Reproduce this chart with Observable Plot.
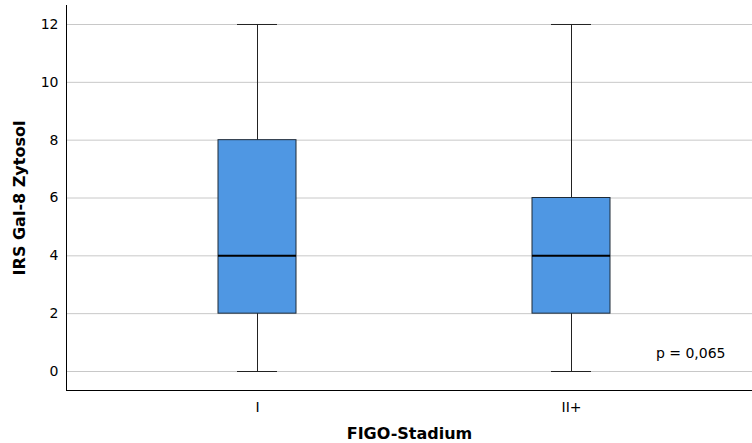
<!DOCTYPE html>
<html><head><meta charset="utf-8">
<script src="https://cdn.jsdelivr.net/npm/d3@7"></script>
<script src="https://cdn.jsdelivr.net/npm/@observablehq/plot@0.6"></script>
<style>
body{margin:0;background:#fff;}
</style></head>
<body><div id="chart"></div>
<script>
const categories = ["I", "II+"];
const mins = [0, 0];
const q1s = [2, 2];
const medians = [4, 4];
const q3s = [8, 6];
const maxs = [12, 12];
const yTicks = [0, 2, 4, 6, 8, 10, 12];
const pLabel = "p = 0,065";
const xTitle = "FIGO-Stadium";
const yTitle = "IRS Gal-8 Zytosol";

const rows = categories.map((c, i) => ({cat: c, min: mins[i], q1: q1s[i], med: medians[i], q3: q3s[i], max: maxs[i]}));

const chart = Plot.plot({
  width: 752, height: 443,
  marginLeft: 66, marginRight: 0, marginTop: 5, marginBottom: 53,
  style: {fontFamily: "DejaVu Sans", fontSize: "14px", color: "#000", background: "#fff"},
  x: {type: "band", domain: categories, range: [100, 728], paddingInner: 0.7516, paddingOuter: 0.3758},
  y: {domain: [-0.657, 12.657]},
  marks: [
    Plot.gridY(yTicks, {stroke: "#c8c8c8", strokeOpacity: 1, strokeWidth: 1}),
    Plot.ruleX(rows, {x: "cat", y1: "min", y2: "max", stroke: "#222", strokeWidth: 1}),
    Plot.barY(rows, {x: "cat", y1: "q1", y2: "q3", fill: "#4f97e3", stroke: "#1e2a36", strokeWidth: 1}),
    Plot.tickY(rows, {x: "cat", y: "med", stroke: "#000", strokeWidth: 2}),
    Plot.tickY(rows, {x: "cat", y: "min", stroke: "#222", strokeWidth: 1, insetLeft: 19, insetRight: 19}),
    Plot.tickY(rows, {x: "cat", y: "max", stroke: "#222", strokeWidth: 1, insetLeft: 19, insetRight: 19}),
    Plot.axisY(yTicks, {tickSize: 0, tickPadding: 8, label: null, fontSize: 14}),
    Plot.axisX({tickSize: 0, tickPadding: 12, label: null, fontSize: 14}),
    Plot.frame({anchor: "left", stroke: "#000"}),
    Plot.frame({anchor: "bottom", stroke: "#000"}),
    Plot.text([yTitle], {frameAnchor: "left", rotate: -90, dx: -47, text: d => d, fontSize: 16, fontWeight: "bold", textAnchor: "middle", lineAnchor: "middle"}),
    Plot.text([xTitle], {frameAnchor: "bottom", dy: 43, text: d => d, fontSize: 16, fontWeight: "bold", textAnchor: "middle", lineAnchor: "middle"}),
    Plot.text([pLabel], {frameAnchor: "bottom-right", dx: -27, dy: -37, text: d => d, fontSize: 14, textAnchor: "end", lineAnchor: "middle"})
  ]
});
document.getElementById("chart").appendChild(chart);
</script></body></html>
